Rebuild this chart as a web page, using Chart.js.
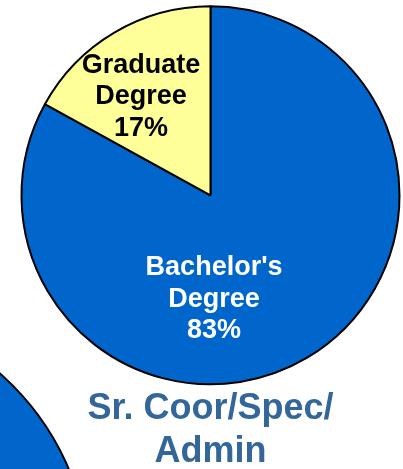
<!DOCTYPE html>
<html>
<head>
<meta charset="utf-8">
<script src="https://cdn.jsdelivr.net/npm/chart.js@4/dist/chart.umd.min.js"></script>
<style>
  html, body { margin: 0; padding: 0; background: #ffffff; overflow: hidden; width: 403px; height: 469px; }
  #wrap { position: relative; width: 403px; height: 469px; overflow: hidden; }
  #side { position: absolute; left: -443px; top: 306px; }
  #main { position: absolute; left: 0; top: 0; }
</style>
</head>
<body>
<div id="wrap">
  <canvas id="side" width="534" height="534"></canvas>
  <canvas id="main" width="403" height="474"></canvas>
</div>
<script>
// ---- data ----
const categories = ["Bachelor's Degree", "Graduate Degree"];
const values = [83, 17];
const sliceColors = ["#0066CC", "#FFFF99"];
const labelColors = ["#FFFFFF", "#000000"];
const titleLines = ["Sr. Coor/Spec/", "Admin"];
// neighbouring (cropped) pie at bottom-left: only its blue part is visible
const sideCategories = ["Bachelor's Degree"];
const sideValues = [100];

const FONT = "'Liberation Sans', Arial, Helvetica, sans-serif";

// label anchor offsets, in units of the pie radius, relative to pie centre
const labelAnchors = [
  { dx: 0.019, dy: 0.550 },
  { dx: -0.368, dy: -0.521 }
];

const sliceLabels = {
  id: 'sliceLabels',
  afterDatasetsDraw(chart) {
    const ctx = chart.ctx;
    const meta = chart.getDatasetMeta(0);
    const data = chart.data.datasets[0].data;
    const total = data.reduce((a, b) => a + b, 0);
    ctx.save();
    ctx.font = "bold 27px " + FONT;
    ctx.textAlign = 'center';
    ctx.textBaseline = 'middle';
    meta.data.forEach((arc, i) => {
      const r = arc.outerRadius;
      const cx = arc.x + labelAnchors[i].dx * r;
      const cy = arc.y + labelAnchors[i].dy * r;
      const pct = Math.round(data[i] / total * 100) + '%';
      const lines = chart.data.labels[i].split(' ').concat([pct]);
      const lh = 31.5;
      ctx.fillStyle = labelColors[i];
      lines.forEach((ln, k) => {
        ctx.fillText(ln, cx, cy + (k - (lines.length - 1) / 2) * lh);
      });
    });
    ctx.restore();
  }
};

new Chart(document.getElementById('main'), {
  type: 'pie',
  data: {
    labels: categories,
    datasets: [{
      data: values,
      backgroundColor: sliceColors,
      borderColor: '#000000',
      borderWidth: 2,
      hoverOffset: 0
    }]
  },
  options: {
    responsive: false,
    animation: false,
    events: [],
    layout: { padding: { left: 20.5, right: 2.5, top: 3, bottom: 0 } },
    plugins: {
      legend: { display: false },
      tooltip: { enabled: false },
      title: {
        display: true,
        position: 'bottom',
        text: titleLines,
        color: '#336699',
        font: { family: FONT, size: 36, weight: 'bold', lineHeight: 1.2 },
        padding: 0
      }
    }
  },
  plugins: [sliceLabels]
});

new Chart(document.getElementById('side'), {
  type: 'pie',
  data: {
    labels: sideCategories,
    datasets: [{
      data: sideValues,
      backgroundColor: ["#0066CC"],
      borderColor: '#000000',
      borderWidth: 2
    }]
  },
  options: {
    responsive: false,
    animation: false,
    events: [],
    layout: { padding: 0 },
    plugins: { legend: { display: false }, tooltip: { enabled: false }, title: { display: false } }
  }
});
</script>
</body>
</html>
